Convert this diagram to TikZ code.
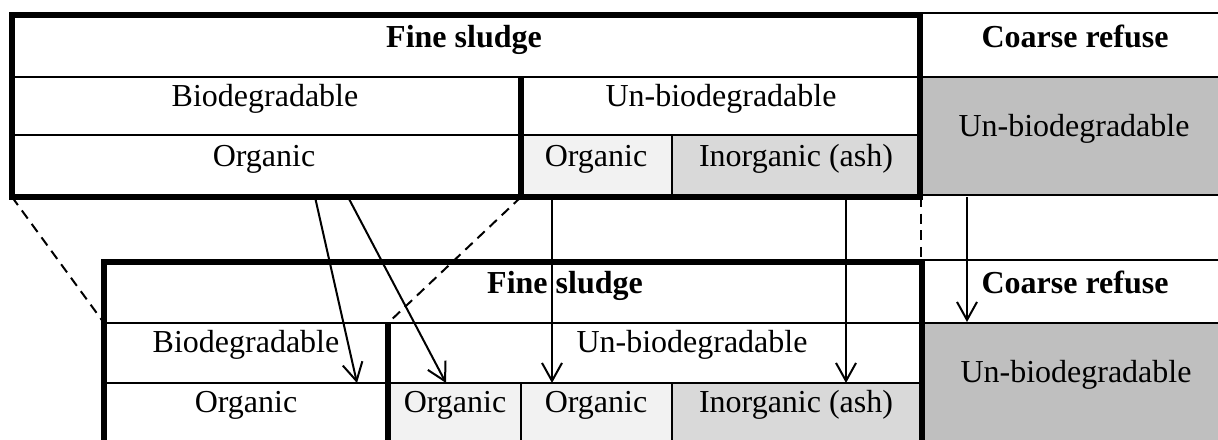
\documentclass[tikz,border=0pt]{standalone}
\usepackage{fontspec}
\setmainfont{Liberation Serif}
\usepackage{tikz}
\usetikzlibrary{arrows.meta}
\definecolor{lightcell}{HTML}{F2F2F2}
\definecolor{midcell}{HTML}{D9D9D9}
\definecolor{darkcell}{HTML}{BFBFBF}
\tikzset{thickrule/.style={line width=1.9pt}}
\tikzset{thinrule/.style={line width=0.75pt}}
\tikzset{celltext/.style={anchor=base,inner sep=0pt,font=\fontsize{12}{14}\selectfont}}
\tikzset{headtext/.style={celltext,font=\fontsize{12}{14}\selectfont\bfseries}}
\tikzset{flow/.style={-{Straight Barb[length=6.75pt,width=7.5pt]},line width=0.75pt}}
\tikzset{guide/.style={line width=0.75pt,dash pattern=on 3.75pt off 2.5pt}}

\begin{document}
\begin{tikzpicture}[x=0.375pt,y=-0.375pt]
\useasboundingbox (0,0) rectangle (1218,440);
% shaded cells
\fill[lightcell] (521,135) rectangle (672,197);
\fill[midcell] (672,135) rectangle (920,197);
\fill[darkcell] (920,77) rectangle (1218,195);
\fill[lightcell] (388,383) rectangle (672,440);
\fill[midcell] (672,383) rectangle (922,440);
\fill[darkcell] (922,323) rectangle (1218,440);
% upper table
\draw[thinrule] (12,77) -- (1218,77);
\draw[thinrule] (12,135) -- (920,135);
\draw[thinrule] (920,13) -- (1218,13);
\draw[thinrule] (920,195) -- (1218,195);
\draw[thinrule] (672,135) -- (672,197);
\draw[thickrule] (12,15) rectangle (920,197);
\draw[thickrule] (521,77) -- (521,197);
% lower table
\draw[thinrule] (104,323) -- (1218,323);
\draw[thinrule] (104,383) -- (922,383);
\draw[thinrule] (922,260) -- (1218,260);
\foreach \x in {521,672} {
\draw[thinrule] (\x,383) -- (\x,445);
}
\draw[thickrule] (104,445) -- (104,262) -- (922,262) -- (922,445);
\draw[thickrule] (388,323) -- (388,445);
% labels, upper
\node[headtext] (fineA) at (464,48) {Fine sludge};
\node[headtext] (coarseA) at (1075,48) {Coarse refuse};
\node[celltext] (bioA) at (265,107) {Biodegradable};
\node[celltext] (unbioA) at (721,107) {Un-biodegradable};
\node[celltext] (coarseunA) at (1074,137) {Un-biodegradable};
\node[celltext] (orgA) at (264,167) {Organic};
\node[celltext] (orgunA) at (596,167) {Organic};
\node[celltext] (ashA) at (796,167) {Inorganic (ash)};
% labels, lower
\node[headtext] (fineB) at (565,294) {Fine sludge};
\node[headtext] (coarseB) at (1075,294) {Coarse refuse};
\node[celltext] (bioB) at (246,353) {Biodegradable};
\node[celltext] (unbioB) at (692,353) {Un-biodegradable};
\node[celltext] (coarseunB) at (1076,383) {Un-biodegradable};
\node[celltext] (orgB) at (246,413) {Organic};
\node[celltext] (orgbioB) at (455,413) {Organic};
\node[celltext] (orgunB) at (596,413) {Organic};
\node[celltext] (ashB) at (796,413) {Inorganic (ash)};
% arrow ends
\coordinate (fromA) at (315,197);
\coordinate (toA) at (357,383);
\coordinate (fromB) at (348,197);
\coordinate (toB) at (446,383);
\coordinate (fromC) at (552,197);
\coordinate (toC) at (552,383);
\coordinate (fromD) at (846,197);
\coordinate (toD) at (846,383);
\coordinate (fromE) at (967,197);
\coordinate (toE) at (967,322);
\foreach \p in {A,B,C,D,E} {
\draw[flow] (from\p) -- (to\p);
}
% dashed guides
\coordinate (cornerA) at (12,197);
\coordinate (cornerB) at (104,323);
\coordinate (splitA) at (521,197);
\coordinate (splitB) at (388,323);
\coordinate (edgeA) at (921,197);
\coordinate (edgeB) at (921,262);
\draw[guide] (cornerA) -- (cornerB);
\draw[guide] (splitA) -- (splitB);
\draw[guide] (edgeA) -- (edgeB);
\end{tikzpicture}
\end{document}
